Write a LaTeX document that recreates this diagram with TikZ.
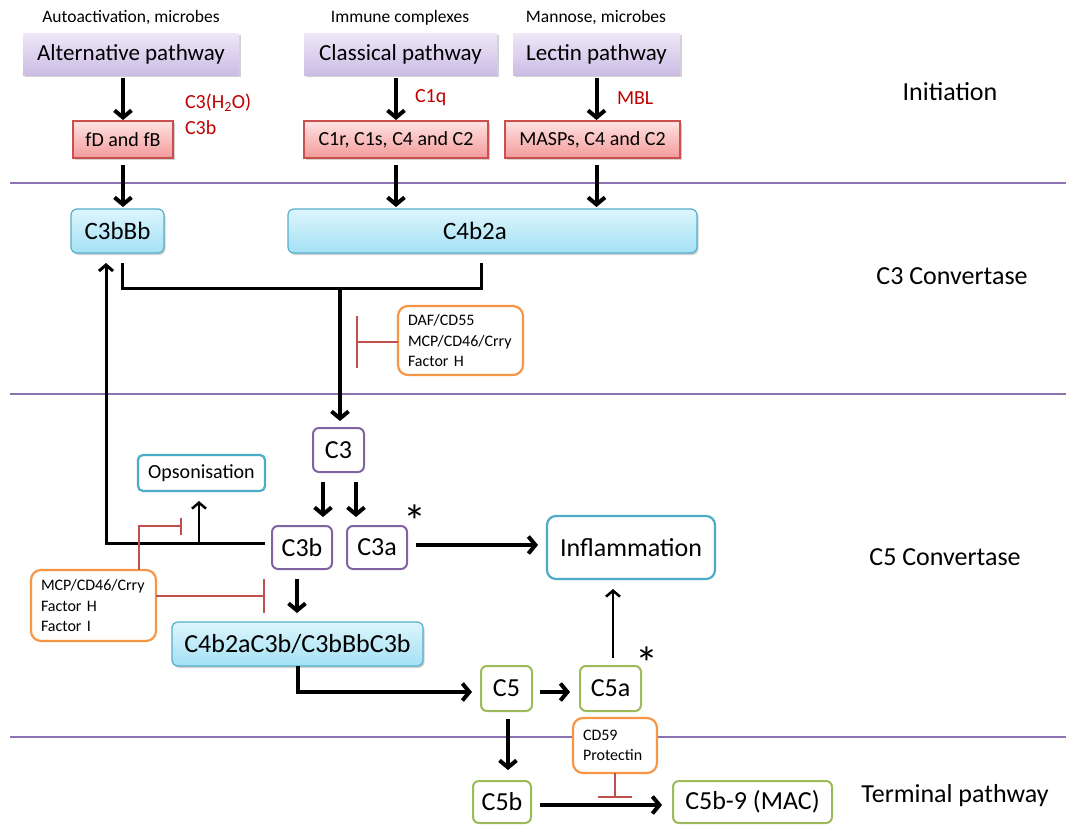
\documentclass[tikz,border=0pt]{standalone}
\usepackage{fontspec}
\setmainfont{Carlito}
\usetikzlibrary{arrows.meta,shadows}
\definecolor{secpurple}{HTML}{8C73B0}
\definecolor{pboxtop}{HTML}{EEE8F8}
\definecolor{pboxbot}{HTML}{CBBCE4}
\definecolor{rboxtop}{HTML}{FFE3E3}
\definecolor{rboxbot}{HTML}{F49A9A}
\definecolor{rboxdraw}{HTML}{C9504D}
\definecolor{cboxtop}{HTML}{DDF5FC}
\definecolor{cboxbot}{HTML}{A3E1F5}
\definecolor{cboxdraw}{HTML}{55AFC9}
\definecolor{bluedraw}{HTML}{4BACC6}
\definecolor{purpdraw}{HTML}{8064A2}
\definecolor{greendraw}{HTML}{9BBB59}
\definecolor{orangedraw}{HTML}{F79646}
\definecolor{redtext}{HTML}{C00000}
\definecolor{inhred}{HTML}{C0504D}
\newcommand\fsz[1]{\fontsize{#1}{#1}\selectfont}
\begin{document}
\begin{tikzpicture}[x=1pt,y=-1pt,
  every node/.style={inner sep=0pt,outer sep=0pt},
  fixbox/.style 2 args={minimum width=#1pt,minimum height=#2pt},
  shad/.style={drop shadow={shadow xshift=1.5pt,shadow yshift=-2pt,opacity=.3,fill=black!60}},
  pathbox/.style={top color=pboxtop,bottom color=pboxbot,shad,font=\fsz{23}},
  enzbox/.style={draw=rboxdraw,line width=1.2pt,top color=rboxtop,bottom color=rboxbot,shad,font=\fsz{20}},
  convbox/.style={draw=cboxdraw,line width=1.2pt,rounded corners=6pt,top color=cboxtop,bottom color=cboxbot,shad,font=\fsz{25}},
  outbox/.style={draw=bluedraw,line width=2.2pt,rounded corners=8pt,fill=white},
  pcbox/.style={draw=purpdraw,line width=2pt,rounded corners=6pt,fill=white,font=\fsz{26}},
  gcbox/.style={draw=greendraw,line width=2pt,rounded corners=6pt,fill=white,font=\fsz{26}},
  regbox/.style={draw=orangedraw,line width=2.2pt,rounded corners=10pt,fill=white,font=\fontsize{16}{20.5}\selectfont,align=left,inner xsep=10pt},
  toplbl/.style={font=\fsz{17.5}},
  redlbl/.style={text=redtext,font=\fsz{20},anchor=west},
  phase/.style={font=\fsz{26}},
  star/.style={font=\fsz{46},anchor=base},
  big/.style={line width=4pt,-{Straight Barb[length=7pt,width=17pt]}},
  thinarr/.style={line width=2.5pt,-{Straight Barb[length=6pt,width=14pt]}},
  brk/.style={line width=3pt},
  inh/.style={draw=inhred,line width=2.2pt,-{Bar[width=#1]}},
  secline/.style={draw=secpurple,line width=1.8pt}
]
\useasboundingbox (0,0) rectangle (1066,825);

% section lines
\draw[secline] (10,183) -- (1066,183);
\draw[secline] (10,394) -- (1066,394);
\draw[secline] (10,737) -- (1066,737);

% initiation
\node[toplbl] (lbA) at (131,18) {Autoactivation, microbes};
\node[toplbl] (lbC) at (400,18) {Immune complexes};
\node[toplbl] (lbL) at (596,18) {Mannose, microbes};
\node[pathbox,fixbox={216}{42}] (alt) at (131,54) {Alternative pathway};
\node[pathbox,fixbox={193}{42}] (cla) at (400.5,54) {Classical pathway};
\node[pathbox,fixbox={167}{42}] (lec) at (596.5,54) {Lectin pathway};
\node[enzbox,fixbox={100}{37}] (fdfb) at (123,139.5) {fD and fB};
\node[enzbox,fixbox={184}{37}] (c1r) at (396,139.5) {C1r, C1s, C4 and C2};
\node[enzbox,fixbox={175}{37}] (masp) at (592.5,139.5) {MASPs, C4 and C2};
\node[redlbl] (rl1) at (185,103) {C3(H\textsubscript{2}O)};
\node[redlbl] (rl2) at (185,128) {C3b};
\node[redlbl] (rl3) at (415,98) {C1q};
\node[redlbl] (rl4) at (617,98) {MBL};

% C3 convertase
\node[convbox,fixbox={93}{44}] (c3bbb) at (117.5,231) {C3bBb};
\node[convbox,fixbox={409}{44}] (c4b2a) at (492.5,231) {\hspace*{-35pt}C4b2a};
\node[regbox,fixbox={125}{69},text width=105pt] (daf) at (460.5,340.5) {DAF/CD55\\MCP/CD46/Crry\\Factor H};

% C5 convertase
\node[pcbox,fixbox={51}{44}] (c3) at (338.5,450) {C3};
\node[outbox,fixbox={127}{36},font=\fsz{20},rounded corners=5pt] (opso) at (201.5,473) {Opsonisation};
\node[pcbox,fixbox={60}{43}] (c3b) at (302,547.5) {C3b};
\node[pcbox,fixbox={60}{43}] (c3a) at (377,547.5) {C3a};
\node[star] (st1) at (415,537) {*};
\node[outbox,fixbox={168}{63},font=\fsz{26},rounded corners=9pt] (infl) at (631,547.5) {Inflammation};
\node[regbox,fixbox={125}{71},text width=105pt] (mcp) at (93.5,605.5) {MCP/CD46/Crry\\Factor H\\Factor I};
\node[convbox,fixbox={251}{44},font=\fsz{26}] (conv) at (297.5,644) {C4b2aC3b/C3bBbC3b};
\node[gcbox,fixbox={51}{45}] (c5) at (506.5,688.5) {C5};
\node[gcbox,fixbox={61}{45}] (c5a) at (610.5,688.5) {C5a};
\node[star] (st2) at (646.5,679) {*};

% terminal
\node[regbox,fixbox={84}{55},text width=64pt] (cd59) at (615,745.5) {CD59\\Protectin};
\node[gcbox,fixbox={58}{42}] (c5b) at (502,802) {C5b};
\node[gcbox,fixbox={159}{42}] (mac) at (752.5,802) {C5b-9 (MAC)};

% phase labels
\node[phase] (ph1) at (950,92) {Initiation};
\node[phase] (ph2) at (952,276) {C3 Convertase};
\node[phase] (ph3) at (945,557) {C5 Convertase};
\node[phase] (ph4) at (955,796) {Terminal pathway};

% initiation arrows
\draw[big,shorten <=3pt,shorten >=1pt] (alt.south -| fdfb.north) -- (fdfb.north);
\draw[big,shorten <=3pt,shorten >=1pt] (cla.south -| c1r.north) -- (c1r.north);
\draw[big,shorten <=3pt,shorten >=1pt] (lec.south) -- (lec.south |- masp.north);
\draw[big,shorten <=7pt,shorten >=2pt] (fdfb.south) -- (fdfb.south |- c3bbb.north);
\draw[big,shorten <=7pt,shorten >=2pt] (c1r.south) -- (c1r.south |- c4b2a.north);
\draw[big,shorten <=7pt,shorten >=2pt] (lec.south |- masp.south) -- (lec.south |- c4b2a.north);

% bracket to C3
\coordinate (jn) at (340,288);
\draw[brk] ([xshift=4.5pt,yshift=-10pt]c3bbb.south) |- (jn) -| ([xshift=-11.5pt,yshift=-10pt]c4b2a.south);
\draw[big,shorten >=7pt] (jn) -- (jn |- c3.north);
\coordinate (iD) at (356,342);
\draw[inh=52pt] (daf.west |- iD) -- (iD);

% C3 cleavage
\draw[big,shorten <=10pt,shorten >=9pt] ([xshift=-15.5pt]c3.south) -- ([xshift=-15.5pt]c3.south |- c3b.north);
\draw[big,shorten <=10pt,shorten >=9pt] ([xshift=17.5pt]c3.south) -- ([xshift=17.5pt]c3.south |- c3a.north);

% C3b feedback and opsonisation
\draw[brk,-{Straight Barb[length=6pt,width=14pt]}] ([xshift=-7pt,yshift=4.5pt]c3b.west) -| ([xshift=-11.5pt,yshift=-10pt]c3bbb.south);
\coordinate (ob) at (199,543);
\draw[thinarr,shorten >=10pt] (ob) -- (ob |- opso.south);
\coordinate (iA) at (182,526);
\draw[inh=17pt] ([xshift=45.5pt]mcp.north) |- (iA);
\coordinate (iB) at (265,596);
\draw[inh=34pt] (mcp.east |- iB) -- (iB);

% C3a to inflammation
\draw[big] ([xshift=9pt,yshift=2.5pt]c3a.east) -- ([xshift=-9pt,yshift=2.5pt]infl.west);

% C3b to C5 convertase
\draw[big,shorten <=10pt,shorten >=9pt] ([xshift=-5pt]c3b.south) -- ([xshift=-5pt]c3b.south |- conv.north);
\draw[big] (conv.south) |- ([xshift=-9pt,yshift=-3.5pt]c5.west);

% C5 cleavage
\draw[big] ([xshift=8pt,yshift=-3.5pt]c5.east) -- ([xshift=-10pt,yshift=-3.5pt]c5a.west);
\draw[thinarr,shorten >=10pt] ([xshift=2.5pt,yshift=8pt]c5a.north) -- ([xshift=2.5pt]c5a.north |- infl.south);
\draw[big,shorten <=8pt,shorten >=11pt] ([xshift=1.5pt]c5.south) -- ([xshift=1.5pt]c5.south |- c5b.north);
\draw[big] ([xshift=9pt,yshift=-3pt]c5b.east) -- ([xshift=-11pt,yshift=-3pt]mac.west);
\coordinate (iC) at (615,798);
\draw[inh=34pt] (cd59.south) -- (iC);
\end{tikzpicture}
\end{document}
